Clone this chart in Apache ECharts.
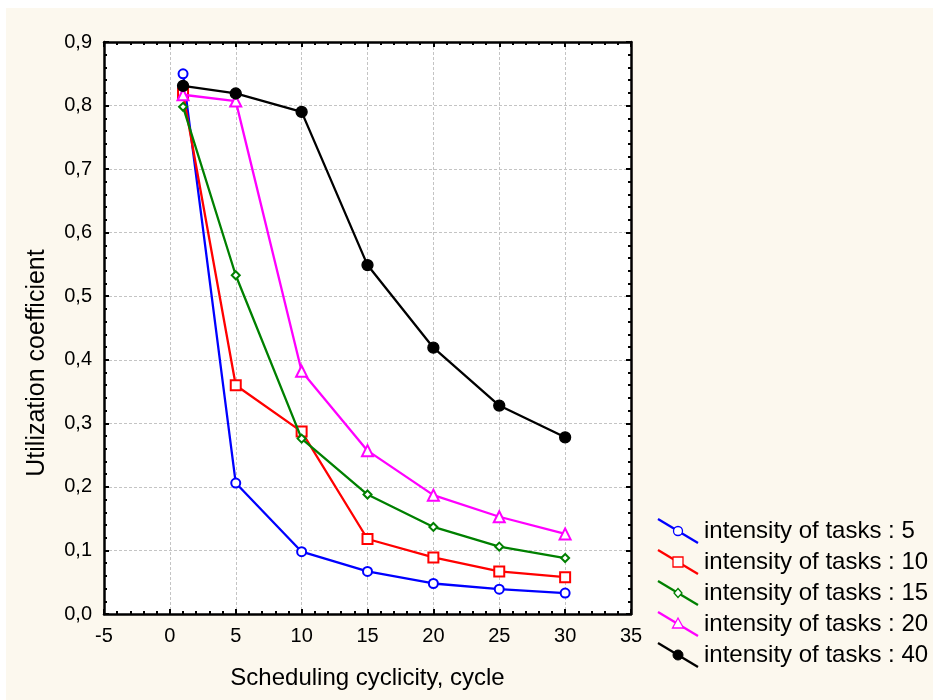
<!DOCTYPE html>
<html>
<head>
<meta charset="utf-8">
<script src="https://cdn.jsdelivr.net/npm/echarts@6/dist/echarts.min.js"></script>
<style>
  html, body { margin: 0; padding: 0; background: #ffffff; }
  #chart { width: 933px; height: 700px; }
</style>
</head>
<body>
<div id="chart"></div>
<script>
// Scheduling cyclicity (x) and utilization coefficient for each task intensity
const cycles = [1, 5, 10, 15, 20, 25, 30];
const intensity5  = [0.850, 0.206, 0.098, 0.067, 0.048, 0.039, 0.033];
const intensity10 = [0.819, 0.360, 0.287, 0.118, 0.089, 0.067, 0.058];
const intensity15 = [0.798, 0.533, 0.276, 0.188, 0.137, 0.106, 0.088];
const intensity20 = [0.817, 0.807, 0.382, 0.257, 0.187, 0.153, 0.126];
const intensity40 = [0.831, 0.819, 0.790, 0.549, 0.419, 0.328, 0.278];

const seriesNames = [
  'intensity of tasks : 5',
  'intensity of tasks : 10',
  'intensity of tasks : 15',
  'intensity of tasks : 20',
  'intensity of tasks : 40'
];
const seriesValues = [intensity5, intensity10, intensity15, intensity20, intensity40];
const seriesColors = ['#0000ff', '#ff0000', '#008000', '#ff00ff', '#000000'];
const seriesSymbols = ['emptyCircle', 'emptyRect', 'emptyDiamond', 'emptyTriangle', 'circle'];
const symbolSizes = [9, 10, 8, 11, 11];

const FONT = '"Liberation Sans", Arial, sans-serif';

const fmtComma = v => v.toFixed(1).replace('.', ',');

const series = seriesNames.map((name, i) => ({
  name: name,
  type: 'line',
  xAxisIndex: 0,
  yAxisIndex: 0,
  data: cycles.map((c, k) => [c, seriesValues[i][k]]),
  symbol: seriesSymbols[i],
  symbolSize: symbolSizes[i],
  showAllSymbol: true,
  lineStyle: { color: seriesColors[i], width: 2.3 },
  itemStyle: { color: seriesColors[i], borderColor: seriesColors[i], borderWidth: 1.3 },
  emphasis: { disabled: true },
  animation: false,
  z: 3 + i
}));

// Legend drawn as slanted line + marker + label, one row per series
const legendTop = 531, legendStep = 31;
const legendGraphics = [];
seriesNames.forEach((name, i) => {
  const cy = legendTop + i * legendStep;
  const cx = 678;
  const col = seriesColors[i];
  legendGraphics.push({
    type: 'line',
    shape: { x1: 658, y1: cy - 12, x2: 698, y2: cy + 12 },
    style: { stroke: col, lineWidth: 2.3 },
    z: 10
  });
  let marker;
  if (i === 0) {
    marker = { type: 'circle', shape: { cx: cx, cy: cy, r: 4.5 }, style: { fill: '#ffffff', stroke: col, lineWidth: 1.3 } };
  } else if (i === 1) {
    marker = { type: 'rect', shape: { x: cx - 5, y: cy - 5, width: 10, height: 10 }, style: { fill: '#ffffff', stroke: col, lineWidth: 1.3 } };
  } else if (i === 2) {
    marker = { type: 'polygon', shape: { points: [[cx, cy - 4.5], [cx + 4, cy], [cx, cy + 4.5], [cx - 4, cy]] }, style: { fill: '#ffffff', stroke: col, lineWidth: 1.3 } };
  } else if (i === 3) {
    marker = { type: 'polygon', shape: { points: [[cx, cy - 6], [cx + 5.5, cy + 4], [cx - 5.5, cy + 4]] }, style: { fill: '#ffffff', stroke: col, lineWidth: 1.3 } };
  } else {
    marker = { type: 'circle', shape: { cx: cx, cy: cy, r: 5 }, style: { fill: col, stroke: col, lineWidth: 1 } };
  }
  marker.z = 11;
  legendGraphics.push(marker);
  legendGraphics.push({
    type: 'text',
    x: 704,
    y: cy,
    style: { text: name, fill: '#000000', font: '24px ' + FONT, textVerticalAlign: 'middle', textAlign: 'left' },
    z: 11
  });
});

const axisCommonX = {
  type: 'value',
  min: -5,
  max: 35,
  interval: 5,
  axisLine: { show: true, onZero: false, lineStyle: { color: '#000000', width: 2.5 } },
  axisTick: { show: true, inside: true, length: 5, lineStyle: { color: '#000000', width: 2 } },
  minorTick: { show: true, splitNumber: 5, length: 3, lineStyle: { color: '#000000', width: 2 } }
};
const axisCommonY = {
  type: 'value',
  min: 0,
  max: 0.9,
  interval: 0.1,
  axisLine: { show: true, onZero: false, lineStyle: { color: '#000000', width: 2.5 } },
  axisTick: { show: true, inside: true, length: 5, lineStyle: { color: '#000000', width: 2 } },
  minorTick: { show: true, splitNumber: 5, length: 3, lineStyle: { color: '#000000', width: 2 } }
};

const option = {
  backgroundColor: '#fcf8ee',
  animation: false,
  textStyle: { fontFamily: FONT },
  grid: {
    left: 104, right: 302, top: 42, bottom: 86,
    show: true, backgroundColor: '#ffffff', borderWidth: 0
  },
  xAxis: [
    Object.assign({}, axisCommonX, {
      position: 'bottom',
      name: 'Scheduling cyclicity, cycle',
      nameLocation: 'middle',
      nameGap: 52,
      nameTextStyle: { fontSize: 24, color: '#000000', fontFamily: FONT },
      axisLabel: { show: true, fontSize: 20, color: '#000000', margin: 12, fontFamily: FONT },
      splitLine: { show: true, lineStyle: { color: '#c4c4c4', width: 1, type: [3, 2] } }
    }),
    Object.assign({}, axisCommonX, {
      position: 'top',
      axisLabel: { show: false },
      splitLine: { show: false }
    })
  ],
  yAxis: [
    Object.assign({}, axisCommonY, {
      position: 'left',
      axisLabel: { show: true, fontSize: 20, color: '#000000', margin: 12, fontFamily: FONT, formatter: fmtComma },
      splitLine: { show: true, lineStyle: { color: '#c4c4c4', width: 1, type: [3, 2] } }
    }),
    Object.assign({}, axisCommonY, {
      position: 'right',
      axisLabel: { show: false },
      splitLine: { show: false }
    })
  ],
  series: series,
  graphic: [
    { type: 'rect', shape: { x: 0, y: 0, width: 933, height: 8 }, style: { fill: '#ffffff' }, z: 0 },
    { type: 'rect', shape: { x: 0, y: 0, width: 6, height: 700 }, style: { fill: '#ffffff' }, z: 0 },
    {
      type: 'text',
      x: 37,
      y: 363,
      rotation: Math.PI / 2,
      style: { text: 'Utilization coefficient', fill: '#000000', font: '25px ' + FONT, textAlign: 'center', textVerticalAlign: 'middle' },
      z: 10
    }
  ].concat(legendGraphics)
};

const chart = echarts.init(document.getElementById('chart'), null, { renderer: 'canvas' });
chart.setOption(option);
</script>
</body>
</html>
